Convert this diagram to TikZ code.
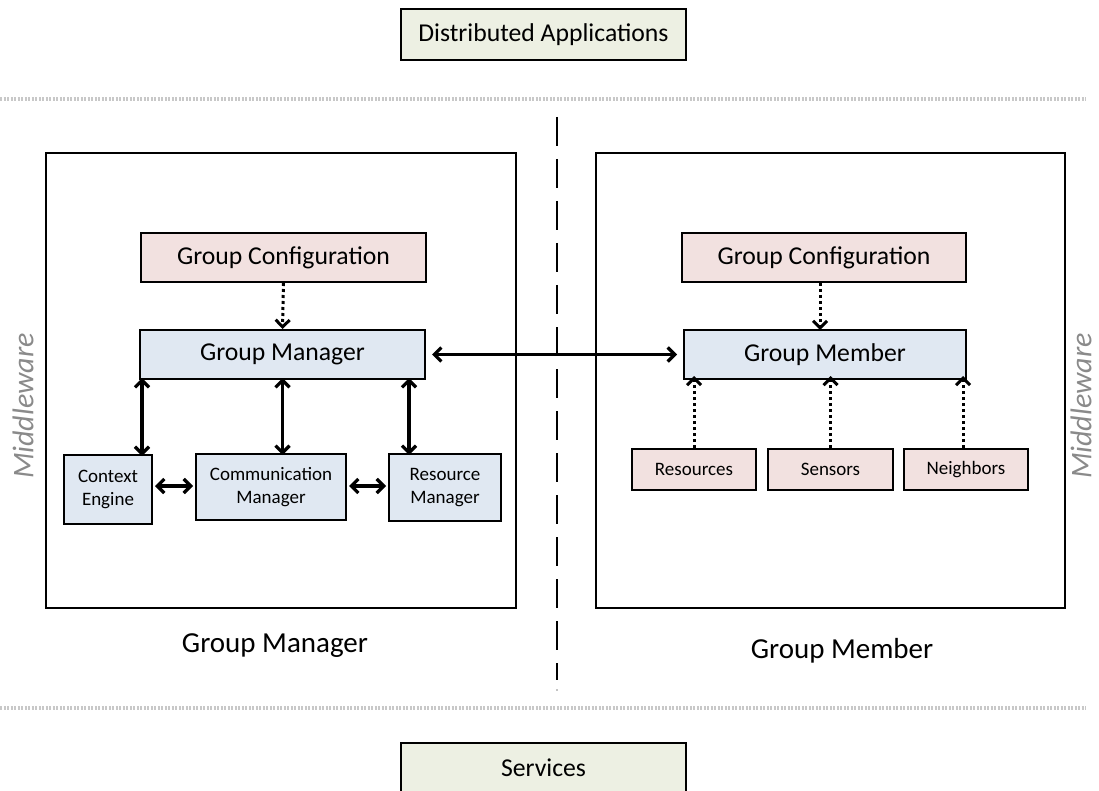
\documentclass[tikz,border=0pt]{standalone}
\usepackage{fontspec}
\setmainfont{Carlito}
\usetikzlibrary{arrows.meta}
\definecolor{boxgreen}{HTML}{EDF0E3}
\definecolor{boxpink}{HTML}{F2E1E0}
\definecolor{boxblue}{HTML}{E0E8F2}
\definecolor{sepgray}{HTML}{C8C8C8}
\definecolor{mwgray}{HTML}{8A8A8A}
\tikzset{
  box/.style={draw=black, line width=2pt, inner sep=0pt, anchor=north west},
  arr/.style={line width=3.2pt, {Straight Barb[length=7pt,width=14pt]}-{Straight Barb[length=7pt,width=14pt]}},
  dotarr/.style={line width=3pt, dash pattern=on 3pt off 3pt, -{Straight Barb[length=7pt,width=14pt]}},
  sep/.style={draw=sepgray, line width=4pt, dash pattern=on 2pt off 1.5pt},
  frame/.style={draw=black, line width=1.6pt},
  bigtxt/.style={font=\fontsize{25.7}{28}\selectfont},
  smalltxt/.style={font=\fontsize{19}{23}\selectfont},
  captxt/.style={font=\fontsize{29}{31}\selectfont},
  mwtxt/.style={rotate=90, inner sep=0pt, font=\fontsize{30}{32}\selectfont\itshape, text=mwgray},
}
\begin{document}
\begin{tikzpicture}[x=1pt,y=-1pt]
\useasboundingbox (0,0) rectangle (1099,791);
% top and bottom
\node[box, fill=boxgreen, minimum width=285pt, minimum height=51pt, bigtxt] (da) at (400,8) {Distributed Applications};
\node[box, fill=boxgreen, minimum width=285pt, minimum height=50pt, bigtxt] (sv) at (400,742) {Services};
\draw[sep] (0,99) -- (1086,99);
\draw[sep] (0,708) -- (1086,708);
% dashed divider
\draw[line width=2.8pt, dash pattern=on 29pt off 13pt] (557,117) -- (557,680);
\fill (557,690) circle (0.6pt);
% big frames
\node[frame, minimum width=470pt, minimum height=455pt, anchor=north west, inner sep=0pt] (lf) at (45,152) {};
\node[frame, minimum width=469pt, minimum height=455pt, anchor=north west, inner sep=0pt] (rf) at (595,152) {};
% middleware
\node[mwtxt] (mwl) at (23,406) {Middleware};
\node[mwtxt] (mwr) at (1081,406) {Middleware};
% captions
\node[captxt] (cgm) at (275,646) {Group Manager};
\node[captxt] (cgb) at (842,651) {Group Member};
% left side
\node[box, fill=boxpink, minimum width=285pt, minimum height=49pt, bigtxt] (gcl) at (140,232) {Group Configuration};
\node[box, fill=boxblue, minimum width=285pt, minimum height=49pt, bigtxt] (gm) at (139,329) {Group Manager};
\node[box, fill=boxblue, minimum width=88pt, minimum height=69pt, align=center, smalltxt] (ce) at (63,454) {Context\\Engine};
\node[box, fill=boxblue, minimum width=150pt, minimum height=66pt, align=center, smalltxt] (cm) at (195,453) {Communication\\Manager};
\node[box, fill=boxblue, minimum width=112pt, minimum height=67pt, align=center, smalltxt] (rm) at (388,453) {Resource\\Manager};
\coordinate (a1) at ([xshift=3pt,yshift=2pt]gm.south west);
\coordinate (a2) at ([yshift=2pt]gm.south);
\coordinate (a3) at ([xshift=-17pt,yshift=2pt]gm.south east);
\draw[dotarr] (gcl.south) -- (gm.north);
\draw[arr] (a1) -- ([yshift=-2pt]ce.north -| a1);
\draw[arr] (a2) -- ([yshift=-2pt]cm.north -| a2);
\draw[arr] (a3) -- ([yshift=-2pt]rm.north -| a3);
\coordinate (h1) at ([xshift=2pt,yshift=1pt]ce.east |- cm.east);
\coordinate (h2) at ([xshift=2pt,yshift=1pt]cm.east);
\draw[arr] (h1) -- ([xshift=-2pt]cm.west |- h1);
\draw[arr] (h2) -- ([xshift=-2pt]rm.west |- h2);
% right side
\node[box, fill=boxpink, minimum width=284pt, minimum height=49pt, bigtxt] (gcr) at (681,232) {Group Configuration};
\node[box, fill=boxblue, minimum width=282pt, minimum height=49pt, bigtxt] (gb) at (683,329) {Group Member};
\node[box, fill=boxpink, minimum width=124pt, minimum height=41pt, smalltxt] (rs) at (631,448) {Resources};
\node[box, fill=boxpink, minimum width=125pt, minimum height=41pt, smalltxt] (sn) at (767,448) {Sensors};
\node[box, fill=boxpink, minimum width=124pt, minimum height=41pt, smalltxt] (nb) at (903,448) {Neighbors};
\coordinate (d0) at ([xshift=-4pt]gcr.south);
\coordinate (d1) at (rs.north);
\coordinate (d2) at (sn.north);
\coordinate (d3) at ([xshift=-3pt]nb.north);
\coordinate (gbb) at ([yshift=4pt]gb.south);
\draw[dotarr] (d0) -- ([yshift=-1pt]gb.north -| d0);
\draw[dotarr] (d1) -- (gbb -| d1);
\draw[dotarr] (d2) -- (gbb -| d2);
\draw[dotarr] (d3) -- (gbb -| d3);
% connection
\draw[arr] ([xshift=6pt]gm.east) -- ([xshift=-6pt]gb.west);
\end{tikzpicture}
\end{document}
